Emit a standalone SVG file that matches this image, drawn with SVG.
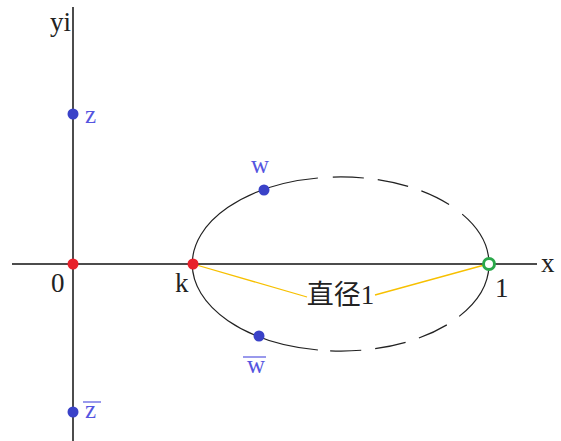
<svg xmlns="http://www.w3.org/2000/svg" width="561" height="441" viewBox="0 0 561 441">
<style>
.axis{stroke:#111;stroke-width:1.5;fill:none}
.ell{stroke:#222;stroke-width:1.2;fill:none}
.dash{stroke-dasharray:0 15 31 14 31 14 31 40}
.yel{stroke:#f7c000;stroke-width:1.3;fill:none}
.lbl{font-family:"Liberation Serif","Noto Sans CJK SC",serif;font-size:27px;fill:#222}
.blbl{font-family:"Liberation Serif",serif;font-size:25px;fill:#5555e0}
.bdot{fill:#3a42c8}
.rdot{fill:#e8202a}
.bar{stroke:#5555e0;stroke-width:1.2}
</style>
<rect width="561" height="441" fill="#fff"/>
<g id="connectors">
<line class="axis" x1="73" y1="7" x2="73" y2="441"/>
<line class="axis" x1="12" y1="264" x2="537" y2="264"/>
<path class="ell" d="M317.9,178 A148,87 0 0 0 317.9,350"/>
<path class="ell" d="M462.2,214.1 A148,87 0 0 1 459.2,316.4"/>
<path class="ell dash" d="M317.9,178 A148,87 0 0 1 462.2,214.1"/>
<path class="ell dash" d="M459.2,316.4 A148,87 0 0 1 317.9,350"/>
<line class="yel" x1="193" y1="264" x2="307" y2="297"/>
<line class="yel" x1="375" y1="295" x2="488" y2="264"/>
</g>
<g id="axis-labels">
<text class="lbl" x="50" y="31">yi</text>
<text class="lbl" x="541" y="272">x</text>
</g>
<g id="node-0">
<circle class="rdot" cx="73" cy="264" r="5.5"/>
<text class="lbl" x="51" y="292">0</text>
</g>
<g id="node-k">
<circle class="rdot" cx="193" cy="264" r="5.5"/>
<text class="lbl" x="175" y="292">k</text>
</g>
<g id="node-1">
<circle cx="489" cy="264" r="5.5" fill="#fff" stroke="#2aa84a" stroke-width="3"/>
<text class="lbl" x="495" y="297">1</text>
</g>
<g id="node-z">
<circle class="bdot" cx="73" cy="114" r="5.5"/>
<text class="blbl" x="85" y="123">z</text>
</g>
<g id="node-zbar">
<circle class="bdot" cx="73" cy="412" r="5.5"/>
<line class="bar" x1="83" y1="402" x2="101" y2="402"/>
<text class="blbl" x="85" y="418">z</text>
</g>
<g id="node-w">
<circle class="bdot" cx="264" cy="190" r="5.5"/>
<text class="blbl" x="251" y="173">w</text>
</g>
<g id="node-wbar">
<circle class="bdot" cx="259" cy="336" r="5.5"/>
<line class="bar" x1="243" y1="357" x2="266" y2="357"/>
<text class="blbl" x="247" y="373">w</text>
</g>
<g id="label-diameter">
<text class="lbl" x="340.5" y="304" text-anchor="middle">直径1</text>
</g>
</svg>
